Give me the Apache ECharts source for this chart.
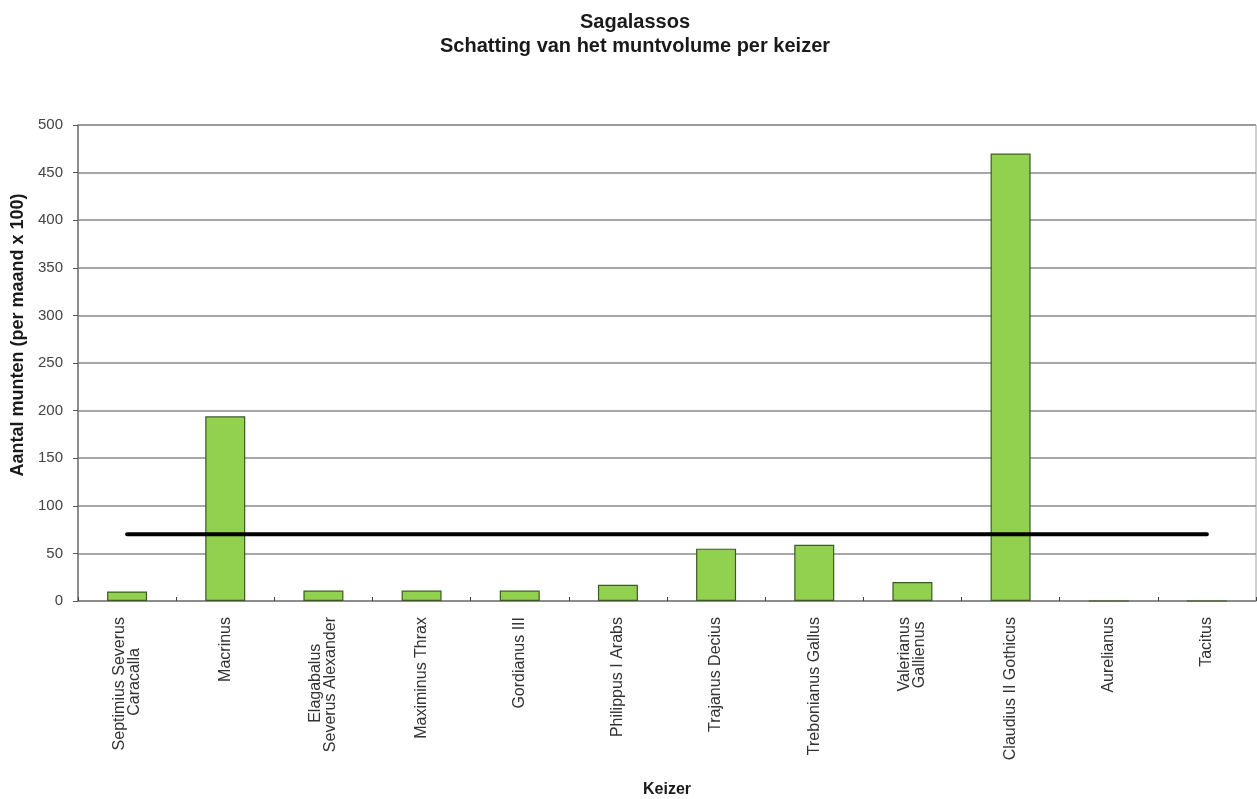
<!DOCTYPE html>
<html>
<head>
<meta charset="utf-8">
<script src="https://cdn.jsdelivr.net/npm/echarts@6/dist/echarts.min.js"></script>
<style>
html,body{margin:0;padding:0;background:#fff;}
#chart{width:1257px;height:799px;}
</style>
</head>
<body>
<div id="chart"></div>
<script>
var categories = [
  'Septimius Severus\nCaracalla',
  'Macrinus',
  'Elagabalus\nSeverus Alexander',
  'Maximinus Thrax',
  'Gordianus III',
  'Philippus I Arabs',
  'Trajanus Decius',
  'Trebonianus Gallus',
  'Valerianus\nGallienus',
  'Claudius II Gothicus',
  'Aurelianus',
  'Tacitus'
];
var coinVolume = [10, 194, 11, 11, 11, 17, 55, 59, 20, 470, 0, 0];
var averageLine = [70, 70, 70, 70, 70, 70, 70, 70, 70, 70, 70, 70];
var yTicks = { min: 0, max: 500, interval: 50 };

var FONT = '"Liberation Sans", Arial, sans-serif';
var LABEL_SIZE = 16;

// Centre the shorter line of a two-line label on the longer one (labels are rotated, right-aligned)
var measureCtx = document.createElement('canvas').getContext('2d');
measureCtx.font = LABEL_SIZE + 'px ' + FONT;
var NBSP = '\u00a0';
var nbspW = measureCtx.measureText(NBSP).width || 4.45;
var labelTexts = categories.map(function (cat) {
  var lines = cat.split('\n');
  var widths = lines.map(function (s) { return measureCtx.measureText(s).width; });
  var maxW = Math.max.apply(null, widths);
  return lines.map(function (s, j) {
    var n = Math.round((maxW - widths[j]) / 2 / nbspW);
    return s + new Array(n + 1).join(NBSP);
  }).join('\n');
});

var chart = echarts.init(document.getElementById('chart'));
chart.setOption({
  backgroundColor: '#ffffff',
  animation: false,
  title: {
    text: 'Sagalassos\nSchatting van het muntvolume per keizer',
    left: 630,
    textAlign: 'center',
    top: 5,
    textStyle: { fontFamily: FONT, fontSize: 20, fontWeight: 'bold', lineHeight: 24, color: '#1a1a1a' }
  },
  grid: {
    left: 78, right: 1, top: 125, bottom: 198,
    show: true, borderColor: '#a0a0a0', borderWidth: 1, backgroundColor: 'transparent'
  },
  xAxis: {
    type: 'category',
    data: categories,
    axisLine: { lineStyle: { color: '#888', width: 1.5 } },
    axisTick: { show: true, inside: true, length: 4, lineStyle: { color: '#444' } },
    axisLabel: {
      interval: 0,
      rotate: 90,
      margin: 16,
      fontFamily: FONT,
      fontSize: LABEL_SIZE,
      lineHeight: 15,
      color: '#333',
      formatter: function (v, idx) { return labelTexts[idx]; }
    }
  },
  yAxis: {
    type: 'value',
    min: yTicks.min, max: yTicks.max, interval: yTicks.interval,
    axisLine: { show: true, lineStyle: { color: '#777', width: 1.5 } },
    axisTick: { show: true, length: 5, lineStyle: { color: '#555' } },
    axisLabel: { margin: 15, fontFamily: FONT, fontSize: 15, color: '#444' },
    splitLine: { show: true, lineStyle: { color: '#8a8a8a', width: 1.5 } }
  },
  graphic: [
    {
      type: 'text',
      x: 18, y: 335,
      rotation: Math.PI / 2,
      style: {
        text: 'Aantal munten (per maand x 100)',
        fontFamily: FONT, fontSize: 18, fontWeight: 'bold', fill: '#1a1a1a',
        align: 'center', verticalAlign: 'middle'
      }
    },
    {
      type: 'text',
      x: 667, y: 790,
      style: {
        text: 'Keizer',
        fontFamily: FONT, fontSize: 16, fontWeight: 'bold', fill: '#1a1a1a',
        align: 'center', verticalAlign: 'middle'
      }
    }
  ],
  series: [
    {
      type: 'bar',
      data: coinVolume,
      barWidth: 40,
      itemStyle: { color: '#92D050', borderColor: '#3d5a24', borderWidth: 1.2 },
      z: 2
    },
    {
      type: 'line',
      data: averageLine,
      showSymbol: false,
      symbol: 'none',
      lineStyle: { color: '#000', width: 4, cap: 'round' },
      z: 5
    }
  ]
});
</script>
</body>
</html>
